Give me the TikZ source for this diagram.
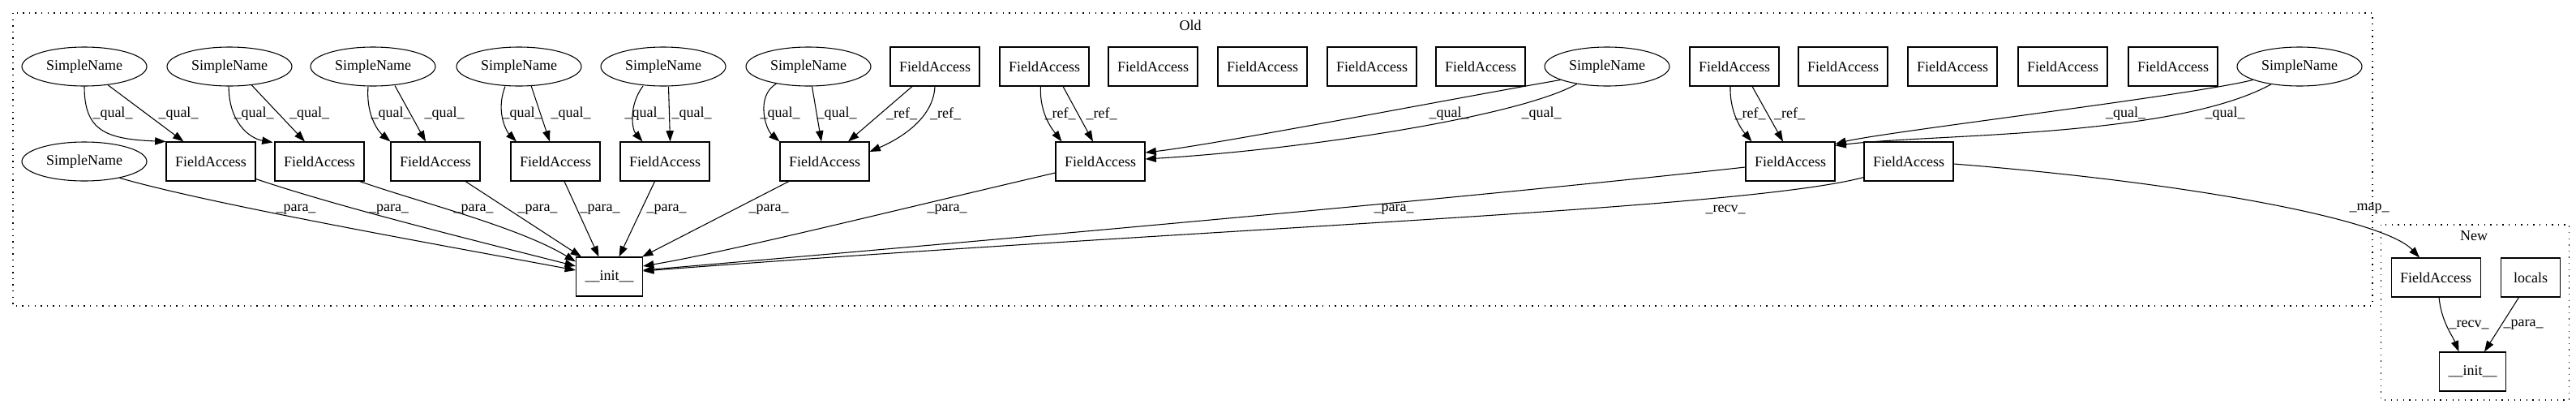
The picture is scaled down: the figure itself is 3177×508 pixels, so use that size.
\documentclass[tikz,border=0pt]{standalone}
\usepackage{fontspec}
\setmainfont{Liberation Serif}
\usetikzlibrary{arrows.meta,shapes.geometric,calc}
\begin{document}
\begin{tikzpicture}[x=0.75pt,y=-0.75pt,
  txt/.style={font=\fontsize{13.5}{16}\selectfont},
  fa/.style={txt,draw,line width=0.8pt,minimum width=82.5pt,minimum height=36pt,inner sep=0pt},
  sn/.style={txt,draw,ellipse,line width=0.8pt,minimum width=115.5pt,minimum height=36pt,inner sep=0pt},
  lbl/.style={txt,inner sep=0pt},
  ed/.style={line width=0.8pt,-{Triangle[length=10pt,width=7pt]}},
  cl/.style={draw,line width=0.9pt,dash pattern=on 1pt off 4.7pt}
]
\useasboundingbox (0,0) rectangle (3177,508);
% clusters
\draw[cl] (16,16) rectangle (2926,377);
\draw[cl] (2936.5,277) rectangle (3168.5,493);
\node[lbl] (old) at (1468,31) {Old};
\node[lbl] (new) at (3051,291) {New};
% row 1
\node[sn] (sn1) at (104,82) {SimpleName};
\node[sn] (sn2) at (283,82) {SimpleName};
\node[sn] (sn3) at (460,82) {SimpleName};
\node[sn] (sn4) at (640,82) {SimpleName};
\node[sn] (sn5) at (818,82) {SimpleName};
\node[sn] (sn6) at (997,82) {SimpleName};
\node[fa] (t1) at (1153,82) {FieldAccess};
\node[fa] (t2) at (1288,82) {FieldAccess};
\node[fa] (t3) at (1422,82) {FieldAccess};
\node[fa] (t4) at (1557,82) {FieldAccess};
\node[fa] (t5) at (1692,82) {FieldAccess};
\node[fa] (t6) at (1826,82) {FieldAccess};
\node[sn] (sn7) at (1982,82) {SimpleName};
\node[fa] (t7) at (2139,82) {FieldAccess};
\node[fa] (t8) at (2273,82) {FieldAccess};
\node[fa] (t9) at (2408,82) {FieldAccess};
\node[fa] (t10) at (2544,82) {FieldAccess};
\node[fa] (t11) at (2680,82) {FieldAccess};
\node[sn] (sn8) at (2836,82) {SimpleName};
% row 2
\node[sn] (sn0) at (104,199) {SimpleName};
\node[fa] (f1) at (260,199) {FieldAccess};
\node[fa] (f2) at (394,199) {FieldAccess};
\node[fa] (f3) at (537,199) {FieldAccess};
\node[fa] (f4) at (685,199) {FieldAccess};
\node[fa] (f5) at (820,199) {FieldAccess};
\node[fa] (f6) at (1017,199) {FieldAccess};
\node[fa] (f7) at (1357,199) {FieldAccess};
\node[fa] (f8) at (2208,199) {FieldAccess};
\node[fa] (f9) at (2354,199) {FieldAccess};
\node[fa,minimum width=61.5pt] (init) at (751.5,341) {\_\_init\_\_};
% new
\node[fa] (nfa) at (3004,342) {FieldAccess};
\node[fa,minimum width=55pt] (loc) at (3121,342) {locals};
\node[fa,minimum width=62pt] (ninit) at (3049.5,458) {\_\_init\_\_};

% qual edges SN -> FA
\draw[ed] (sn1.south) .. controls +(0,54) and +(-75,-3) .. (f1.north west);
\draw[ed] (sn1.-38) -- ($(f1.north west)+(22,0)$);
\draw[ed] (sn2.-92) .. controls +(0,44) and +(-29,-5) .. ($(f2.north west)+(-2,1)$);
\draw[ed] (sn2.-40) -- ($(f2.north)+(-18,0)$);
\draw[ed] ($(sn3.south)+(-6,0)$) .. controls +(-3,39) and +(-12,-10) .. (f3.north west);
\draw[ed] ($(sn3.south)+(27,-1)$) -- ($(f3.north)+(-12,0)$);
\draw[ed] ($(sn4.south)+(-17,0)$) .. controls +(-13,34) and +(-10,-10) .. ($(f4.north west)+(7.5,0)$);
\draw[ed] ($(sn4.south)+(15,-1)$) -- ($(f4.north)+(-7,0)$);
\draw[ed] ($(sn5.south)+(-25,-0.5)$) .. controls +(-18,24) and +(-13,-15) .. ($(f5.north west)+(28,0)$);
\draw[ed] ($(sn5.south)+(6.5,0)$) -- ($(f5.north)+(6.5,0)$);
\draw[ed] (sn6.-152) .. controls +(-26,16) and +(-17,-15) .. (f6.north west);
\draw[ed] ($(sn6.south)+(4.5,0)$) -- ($(f6.north)+(-4,0)$);
% ref edges
\draw[ed] ($(t1.south)+(-28,0)$) -- ($(f6.north)+(29,0)$);
\draw[ed] (t1.south) .. controls +(-2,44) and +(28,-12) .. ($(f6.east)+(0,-12)$);
\draw[ed] ($(t2.south)+(-4.5,0)$) .. controls +(-2,34) and +(-10,-13) .. ($(f7.north west)+(8,0)$);
\draw[ed] ($(t2.south)+(23,0)$) -- ($(f7.north)+(-9,0)$);
\draw[ed] (sn7.-164) .. controls (1800,120) and (1500,178) .. ($(f7.east)+(0,-11)$);
\draw[ed] (sn7.-150) .. controls (1870,145) and (1600,185) .. ($(f7.east)+(0,-3)$);
\draw[ed] ($(t7.south)+(-5,0)$) .. controls +(-1,34) and +(-11,-13) .. ($(f8.north west)+(8,0)$);
\draw[ed] ($(t7.south)+(22,0)$) -- ($(f8.north)+(-9,0)$);
\draw[ed] (sn8.-164) .. controls (2700,118) and (2320,163) .. ($(f8.north east)+(0,3)$);
\draw[ed] (sn8.-148) .. controls (2680,170) and (2380,165) .. ($(f8.north east)+(0,5)$);
% para edges to init
\draw[ed] (sn0.-25) .. controls (260,252) and (560,305) .. ($(init.west)+(0,-8)$);
\draw[ed] ($(f1.south east)+(0,-3)$) .. controls (420,256) and (600,300) .. ($(init.west)+(0,-13)$);
\draw[ed] ($(f2.south east)+(-6,0)$) .. controls (520,250) and (640,280) .. ($(init.north west)+(0,6)$);
\draw[ed] ($(f3.south)+(37,0)$) -- ($(init.north west)+(7,0)$);
\draw[ed] ($(f4.south)+(11,0)$) -- ($(init.north)+(-13,0)$);
\draw[ed] ($(f5.south)+(-12.5,0)$) -- ($(init.north)+(12,0)$);
\draw[ed] ($(f6.south)+(-44,0)$) -- ($(init.north east)+(-1,0)$);
\draw[ed] ($(f7.west)+(0,14)$) .. controls (1100,260) and (900,310) .. ($(init.east)+(0,-13)$);
\draw[ed] ($(f8.west)+(0,7)$) .. controls (1800,245) and (1200,298) .. ($(init.east)+(0,-8)$);
\draw[ed] ($(f9.south west)+(0,-5)$) .. controls (2150,258) and (1500,280) .. ($(init.east)+(0,-7)$);
% map
\draw[ed] ($(f9.east)+(0,3)$) .. controls (2700,225) and (2940,270) .. ($(nfa.north)+(-20,0)$);
% new edges
\draw[ed] ($(nfa.south)+(4,0)$) .. controls +(3,30) and +(-8,-20) .. ($(ninit.north)+(-17,0)$);
\draw[ed] ($(loc.south)+(-14.5,0)$) -- ($(ninit.north)+(14.5,0)$);

% labels
\node[lbl] (q1a) at (139,140) {\_qual\_};
\node[lbl] (q1b) at (220,140) {\_qual\_};
\node[lbl] (q2a) at (313,140) {\_qual\_};
\node[lbl] (q2b) at (381.5,140) {\_qual\_};
\node[lbl] (q3a) at (482,140) {\_qual\_};
\node[lbl] (q3b) at (548,140) {\_qual\_};
\node[lbl] (q4a) at (644,140) {\_qual\_};
\node[lbl] (q4b) at (704,140) {\_qual\_};
\node[lbl] (q5a) at (795,140) {\_qual\_};
\node[lbl] (q5b) at (853,140) {\_qual\_};
\node[lbl] (q6a) at (962,140) {\_qual\_};
\node[lbl] (q6b) at (1032,140) {\_qual\_};
\node[lbl] (r1a) at (1112,140) {\_ref\_};
\node[lbl] (r1b) at (1166,140) {\_ref\_};
\node[lbl] (r2a) at (1307.5,140) {\_ref\_};
\node[lbl] (r2b) at (1358.5,140) {\_ref\_};
\node[lbl] (q7a) at (1787,140) {\_qual\_};
\node[lbl] (q7b) at (1901,140) {\_qual\_};
\node[lbl] (r7a) at (2158.6,140) {\_ref\_};
\node[lbl] (r7b) at (2207,140) {\_ref\_};
\node[lbl] (q8a) at (2621.5,140) {\_qual\_};
\node[lbl] (q8b) at (2744,140) {\_qual\_};
\node[lbl] (p0) at (365,258) {\_para\_};
\node[lbl] (p1) at (479.5,258) {\_para\_};
\node[lbl] (p2) at (584,258) {\_para\_};
\node[lbl] (p3) at (663,258) {\_para\_};
\node[lbl] (p4) at (740,258) {\_para\_};
\node[lbl] (p5) at (822,258) {\_para\_};
\node[lbl] (p6) at (948,258) {\_para\_};
\node[lbl] (p7) at (1168,258) {\_para\_};
\node[lbl] (p8) at (1719,258) {\_para\_};
\node[lbl] (rv9) at (2128,258) {\_recv\_};
\node[lbl] (mp) at (2922,257) {\_map\_};
\node[lbl] (nrv) at (3045,400) {\_recv\_};
\node[lbl] (npa) at (3112,400) {\_para\_};
\end{tikzpicture}
\end{document}
